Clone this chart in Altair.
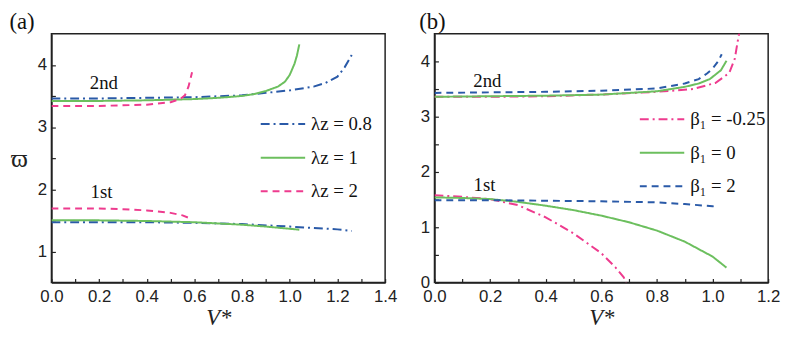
import altair as alt
import pandas as pd

# ---------------- Panel (a) data ----------------
a_series = ["λz = 0.8", "λz = 1", "λz = 2"]
a_colors = ["#2a5aa8", "#6cbf5e", "#ee3b8e"]
a_dashes = [[9, 4, 2, 4], [1, 0], [7, 5]]

lam08_2nd_v = [0, 0.2, 0.4, 0.6, 0.8, 0.9, 1.0, 1.1, 1.15, 1.2, 1.23, 1.26]
lam08_2nd_w = [3.46, 3.46, 3.47, 3.48, 3.51, 3.55, 3.59, 3.65, 3.71, 3.81, 3.96, 4.16]
lam08_1st_v = [0, 0.2, 0.4, 0.6, 0.8, 1.0, 1.2, 1.26]
lam08_1st_w = [1.47, 1.47, 1.47, 1.46, 1.44, 1.40, 1.355, 1.33]

lam1_2nd_v = [0, 0.2, 0.4, 0.6, 0.7, 0.8, 0.85, 0.9, 0.95, 0.98, 1.0, 1.02, 1.03, 1.04]
lam1_2nd_w = [3.42, 3.42, 3.43, 3.45, 3.47, 3.50, 3.53, 3.58, 3.65, 3.73, 3.84, 4.02, 4.15, 4.33]
lam1_1st_v = [0, 0.2, 0.4, 0.6, 0.8, 0.9, 1.04]
lam1_1st_w = [1.50, 1.50, 1.49, 1.47, 1.43, 1.40, 1.35]

lam2_2nd_v = [0, 0.2, 0.4, 0.5, 0.54, 0.56, 0.575, 0.59]
lam2_2nd_w = [3.34, 3.34, 3.36, 3.40, 3.45, 3.51, 3.65, 3.88]
lam2_1st_v = [0, 0.2, 0.3, 0.4, 0.5, 0.55, 0.59]
lam2_1st_w = [1.69, 1.69, 1.68, 1.66, 1.62, 1.58, 1.52]

a_text = ["2nd", "1st"]
a_text_v = [0.22, 0.21]
a_text_w = [3.71, 1.95]

a_xticks = [0.0, 0.1, 0.2, 0.3, 0.4, 0.5, 0.6, 0.7, 0.8, 0.9, 1.0, 1.1, 1.2, 1.3, 1.4]
a_yticks = [1.0, 1.5, 2.0, 2.5, 3.0, 3.5, 4.0]

# ---------------- Panel (b) data ----------------
b_series = ["β₁ = -0.25", "β₁ = 0", "β₁ = 2"]
b_colors = ["#ee3b8e", "#6cbf5e", "#2a5aa8"]
b_dashes = [[9, 4, 2, 4], [1, 0], [7, 5]]

bm_2nd_v = [0, 0.2, 0.4, 0.6, 0.8, 0.93, 1.01, 1.06, 1.08, 1.09, 1.096, 1.10]
bm_2nd_w = [3.36, 3.36, 3.37, 3.40, 3.45, 3.50, 3.61, 3.79, 4.05, 4.35, 4.52, 4.70]
bm_1st_v = [0, 0.1, 0.2, 0.3, 0.4, 0.5, 0.6, 0.65, 0.68, 0.69]
bm_1st_w = [1.58, 1.55, 1.51, 1.40, 1.18, 0.89, 0.53, 0.28, 0.10, 0.0]

b0_2nd_v = [0, 0.2, 0.4, 0.6, 0.8, 0.9, 0.95, 0.99, 1.03, 1.05]
b0_2nd_w = [3.36, 3.37, 3.38, 3.40, 3.46, 3.54, 3.60, 3.68, 3.84, 4.01]
b0_1st_v = [0, 0.1, 0.2, 0.3, 0.4, 0.5, 0.6, 0.7, 0.8, 0.9, 1.0, 1.05]
b0_1st_w = [1.54, 1.53, 1.51, 1.46, 1.39, 1.31, 1.21, 1.09, 0.94, 0.74, 0.47, 0.27]

b2_2nd_v = [0, 0.2, 0.4, 0.6, 0.8, 0.9, 0.95, 0.98, 1.0, 1.02, 1.033]
b2_2nd_w = [3.43, 3.44, 3.45, 3.47, 3.51, 3.60, 3.68, 3.78, 3.87, 4.00, 4.13]
b2_1st_v = [0, 0.2, 0.4, 0.6, 0.8, 0.9, 1.0, 1.02]
b2_1st_w = [1.49, 1.49, 1.48, 1.47, 1.45, 1.42, 1.38, 1.37]

b_text = ["2nd", "1st"]
b_text_v = [0.19, 0.18]
b_text_w = [3.65, 1.77]

b_xticks = [0.0, 0.1, 0.2, 0.3, 0.4, 0.5, 0.6, 0.7, 0.8, 0.9, 1.0, 1.1, 1.2]
b_yticks = [0.0, 0.5, 1.0, 1.5, 2.0, 2.5, 3.0, 3.5, 4.0]


def frame(curves):
    rows = []
    for series, mode, vs, ws in curves:
        for v, w in zip(vs, ws):
            rows.append({"series": series, "mode": mode, "v": v, "w": w})
    return pd.DataFrame(rows)


df_a = frame([
    (a_series[0], "2nd", lam08_2nd_v, lam08_2nd_w),
    (a_series[0], "1st", lam08_1st_v, lam08_1st_w),
    (a_series[1], "2nd", lam1_2nd_v, lam1_2nd_w),
    (a_series[1], "1st", lam1_1st_v, lam1_1st_w),
    (a_series[2], "2nd", lam2_2nd_v, lam2_2nd_w),
    (a_series[2], "1st", lam2_1st_v, lam2_1st_w),
])
df_b = frame([
    (b_series[0], "2nd", bm_2nd_v, bm_2nd_w),
    (b_series[0], "1st", bm_1st_v, bm_1st_w),
    (b_series[1], "2nd", b0_2nd_v, b0_2nd_w),
    (b_series[1], "1st", b0_1st_v, b0_1st_w),
    (b_series[2], "2nd", b2_2nd_v, b2_2nd_w),
    (b_series[2], "1st", b2_1st_v, b2_1st_w),
])

W = 338
H = 252
SANS = "Liberation Sans"
SERIF = "Liberation Serif"
INK = "#222"

x_label_expr = "abs(datum.value*10 - 2*round(datum.value*5)) < 0.01 ? format(datum.value, '.1f') : ''"
y_label_expr = "abs(datum.value - round(datum.value)) < 0.01 ? format(datum.value, 'd') : ''"


def x_axis(ticks):
    # labels + title + domain line, no ticks
    return alt.Axis(orient="bottom", values=ticks, labelExpr=x_label_expr, ticks=False,
                    domain=True, domainColor=INK, domainWidth=1.5, grid=False,
                    labelFont=SANS, labelFontSize=17, labelColor=INK, labelPadding=6,
                    labelFlush=False, labelBound=False,
                    labelOverlap=False, title="V*", titleFont=SERIF, titleFontStyle="italic",
                    titleFontWeight="normal", titleFontSize=23, titleColor=INK, titlePadding=3)


def y_axis(ticks, title):
    kw = dict(orient="left", values=ticks, labelExpr=y_label_expr, ticks=False,
              domain=True, domainColor=INK, domainWidth=1.5, grid=False,
              labelFont=SANS, labelFontSize=17, labelColor=INK, labelPadding=5,
              labelFlush=False, labelBound=False, labelOverlap=False)
    if title:
        kw.update(title=title, titleAngle=0, titleX=-33, titleY=H / 2, titleAlign="center",
                  titleBaseline="middle", titleFont=SERIF, titleFontSize=26,
                  titleFontWeight="normal", titleColor=INK)
    else:
        kw.update(title=None)
    return alt.Axis(**kw)


def tick_axis(orient, ticks):
    # inward ticks: axis pulled 4px inside the frame, ticks point back to the edge
    return alt.Axis(orient=orient, values=ticks, offset=-4, ticks=True, tickSize=4,
                    tickColor=INK, tickWidth=1.2, labels=False, domain=False,
                    grid=False, title=None)


def panel(df, series, colors, dashes, xdom, xticks, ydom, yticks, ytitle,
          tv, tw, tt, lx, ly, label):
    legend = alt.Legend(title=None, orient="none", legendX=lx, legendY=ly,
                        symbolType="stroke", symbolSize=2025, symbolStrokeWidth=2,
                        labelFont=SERIF, labelFontSize=19, labelColor="#111",
                        labelOffset=5, rowPadding=-23, padding=0)
    xs = alt.Scale(domain=xdom, nice=False, zero=False)
    ys = alt.Scale(domain=ydom, nice=False, zero=False)
    lines = alt.Chart(df).mark_line(strokeWidth=2, clip=True).encode(
        x=alt.X("v:Q", scale=xs, axis=x_axis(xticks)),
        y=alt.Y("w:Q", scale=ys, axis=y_axis(yticks, ytitle)),
        color=alt.Color("series:N", scale=alt.Scale(domain=series, range=colors), legend=legend, sort=series),
        strokeDash=alt.StrokeDash("series:N", scale=alt.Scale(domain=series, range=dashes), legend=legend, sort=series),
        detail="mode:N",
    )
    tdf = pd.DataFrame({"v": tv, "w": tw, "t": tt})
    texts = alt.Chart(tdf).mark_text(font=SERIF, fontSize=19, color="#111").encode(
        x=alt.X("v:Q", scale=xs, axis=tick_axis("bottom", xticks)),
        y=alt.Y("w:Q", scale=ys, axis=tick_axis("left", yticks)),
        text="t:N")
    return alt.layer(lines, texts).resolve_axis(x="independent", y="independent").properties(
        width=W, height=H,
        title=alt.TitleParams(label, anchor="start", font=SERIF, fontSize=23,
                              fontWeight="normal", color="#111", offset=0, dx=-1),
    )


pa = panel(df_a, a_series, a_colors, a_dashes, [0, 1.4], a_xticks, [0.5, 4.5], a_yticks, "ϖ",
           a_text_v, a_text_w, a_text, 211, 68, "(a)")
pb = panel(df_b, b_series, b_colors, b_dashes, [0, 1.2], b_xticks, [0, 4.5], b_yticks, None,
           b_text_v, b_text_w, b_text, 207, 63, "(b)")

chart = alt.hconcat(pa, pb, spacing=50, bounds="flush").resolve_scale(
    color="independent", strokeDash="independent", x="independent", y="independent"
).properties(padding=0, background="white").configure_view(stroke=INK, strokeWidth=1.5)

chart.save("out.html", embed_options={"renderer": "svg", "actions": False})
